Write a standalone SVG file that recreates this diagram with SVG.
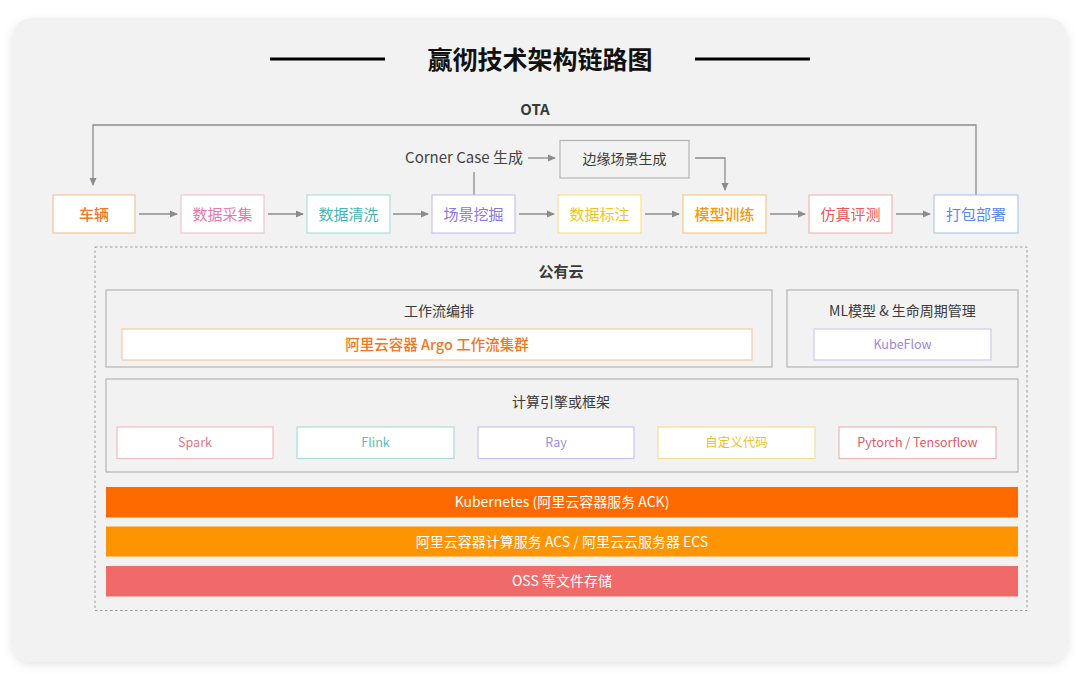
<svg xmlns="http://www.w3.org/2000/svg" width="1080" height="689" viewBox="0 0 1080 689">
<defs>
<filter id="sh" x="-5%" y="-5%" width="110%" height="115%">
<feDropShadow dx="0" dy="3" stdDeviation="5" flood-color="#000" flood-opacity="0.10"/>
</filter>
<marker id="ar" markerWidth="8" markerHeight="8" refX="7" refY="4" orient="auto" markerUnits="userSpaceOnUse">
<path d="M0,0.5 L8,4 L0,7.5 Z" fill="#8c8c8c"/>
</marker>
<style>
text{font-family:"Noto Sans CJK SC","Noto Sans",sans-serif;text-anchor:middle}
.node{fill:#fff;stroke-width:1.2}
.nt{font-size:15px}
.ln{fill:none;stroke:#8c8c8c;stroke-width:1.3}
.grp{fill:#f2f2f2;stroke:#b4b4b4;stroke-width:1.2}
.gt{font-size:14px;fill:#3a3a3a}
.sub{fill:#fff;stroke-width:1.2}
.st{font-size:12.5px}
.bar{stroke:none}
.bt{font-size:14px;fill:#fff}
</style>
</defs>
<rect x="0" y="0" width="1080" height="689" fill="#fff"/>
<rect x="12" y="18" width="1056" height="644" rx="20" fill="#f2f2f2" filter="url(#sh)"/>
<g id="title">
<line x1="270" y1="59" x2="385" y2="59" stroke="#000" stroke-width="3"/>
<line x1="695" y1="59" x2="810" y2="59" stroke="#000" stroke-width="3"/>
<text x="540" y="69" font-size="25" font-weight="bold" fill="#111">赢彻技术架构链路图</text>
</g>
<text x="535" y="115" font-size="15" font-weight="bold" fill="#3a3a3a">OTA</text>
<g id="connectors">
<polyline class="ln" points="976,195 976,125 93,125 93,185" marker-end="url(#ar)"/>
<line class="ln" x1="139" y1="214" x2="177" y2="214" marker-end="url(#ar)"/>
<line class="ln" x1="268" y1="214" x2="303" y2="214" marker-end="url(#ar)"/>
<line class="ln" x1="393" y1="214" x2="428" y2="214" marker-end="url(#ar)"/>
<line class="ln" x1="519" y1="214" x2="554" y2="214" marker-end="url(#ar)"/>
<line class="ln" x1="645" y1="214" x2="679" y2="214" marker-end="url(#ar)"/>
<line class="ln" x1="770" y1="214" x2="805" y2="214" marker-end="url(#ar)"/>
<line class="ln" x1="896" y1="214" x2="930" y2="214" marker-end="url(#ar)"/>
<line class="ln" x1="474" y1="195" x2="474" y2="172"/>
<line class="ln" x1="528" y1="158" x2="555" y2="158" marker-end="url(#ar)"/>
<polyline class="ln" points="695,158 725,158 725,190" marker-end="url(#ar)"/>
</g>
<g id="corner-case"><text x="464" y="163" font-size="15" fill="#444">Corner Case 生成</text></g>
<g id="edge-scene">
<rect x="560" y="140.5" width="129" height="37.5" fill="#f2f2f2" stroke="#b4b4b4" stroke-width="1.2"/>
<text x="624.5" y="164" font-size="14" fill="#3a3a3a">边缘场景生成</text>
</g>
<g id="n1"><rect class="node" x="53" y="195" width="82" height="38" stroke="#f5c49a"/><text class="nt" x="94" y="219.5" fill="#f07820" font-weight="500">车辆</text></g>
<g id="n2"><rect class="node" x="181" y="195" width="83" height="38" stroke="#f2c0d8"/><text class="nt" x="222.5" y="219.5" fill="#e878b0">数据采集</text></g>
<g id="n3"><rect class="node" x="307" y="195" width="83" height="38" stroke="#a8e0dc"/><text class="nt" x="348.5" y="219.5" fill="#3fb5b5">数据清洗</text></g>
<g id="n4"><rect class="node" x="432" y="195" width="83" height="38" stroke="#c8c0f0"/><text class="nt" x="473.5" y="219.5" fill="#8878d8">场景挖掘</text></g>
<g id="n5"><rect class="node" x="558" y="195" width="83" height="38" stroke="#f8e08a"/><text class="nt" x="599.5" y="219.5" fill="#f5c518">数据标注</text></g>
<g id="n6"><rect class="node" x="683" y="195" width="83" height="38" stroke="#f8c880"/><text class="nt" x="724.5" y="219.5" fill="#f59a00" font-weight="500">模型训练</text></g>
<g id="n7"><rect class="node" x="809" y="195" width="83" height="38" stroke="#f2b8b8"/><text class="nt" x="850.5" y="219.5" fill="#e85a5a">仿真评测</text></g>
<g id="n8"><rect class="node" x="934" y="195" width="84" height="38" stroke="#b0c8f2"/><text class="nt" x="976" y="219.5" fill="#5a8ae8">打包部署</text></g>
<g id="cloud">
<rect x="95" y="247" width="932" height="363.5" fill="none" stroke="#9a9a9a" stroke-width="1" stroke-dasharray="2.5,2.5"/>
<text x="561" y="277" font-size="15" font-weight="bold" fill="#3a3a3a">公有云</text>
</g>
<g id="workflow">
<rect class="grp" x="106" y="290" width="666" height="77"/>
<text class="gt" x="439" y="316">工作流编排</text>
</g>
<g id="argo">
<rect class="sub" x="122" y="329" width="630" height="31" stroke="#f5c9a5"/>
<text x="437" y="350" font-size="14.5" fill="#f07820" font-weight="500">阿里云容器 Argo 工作流集群</text>
</g>
<g id="ml">
<rect class="grp" x="787" y="290" width="231" height="77"/>
<text class="gt" x="902.5" y="316">ML模型 &amp; 生命周期管理</text>
</g>
<g id="kubeflow">
<rect class="sub" x="814" y="329" width="177" height="31" stroke="#cfc8f2"/>
<text class="st" x="902.5" y="349" fill="#9a88e0">KubeFlow</text>
</g>
<g id="compute">
<rect class="grp" x="106" y="379" width="912" height="93"/>
<text class="gt" x="561" y="407">计算引擎或框架</text>
</g>
<g id="spark"><rect class="sub" x="117" y="427" width="156" height="31.5" stroke="#f2bcc4"/><text class="st" x="195" y="447" fill="#e07888">Spark</text></g>
<g id="flink"><rect class="sub" x="297" y="427" width="157" height="31.5" stroke="#a8dcd8"/><text class="st" x="375.5" y="447" fill="#5cbcbc">Flink</text></g>
<g id="ray"><rect class="sub" x="478" y="427" width="156" height="31.5" stroke="#c8c0f0"/><text class="st" x="556" y="447" fill="#a090e0">Ray</text></g>
<g id="custom"><rect class="sub" x="658" y="427" width="157" height="31.5" stroke="#f5e090"/><text class="st" x="736.5" y="447" fill="#f0c020">自定义代码</text></g>
<g id="pytorch"><rect class="sub" x="839" y="427" width="157" height="31.5" stroke="#f0b4b4"/><text class="st" x="917.5" y="447" fill="#e05a66">Pytorch / Tensorflow</text></g>
<g id="k8s"><rect class="bar" x="106" y="487" width="912" height="30.5" fill="#ff6a00"/><text class="bt" x="562" y="507">Kubernetes (阿里云容器服务 ACK)</text></g>
<g id="acs"><rect class="bar" x="106" y="526.5" width="912" height="30" fill="#fd9400"/><text class="bt" x="562" y="546.5">阿里云容器计算服务 ACS / 阿里云云服务器 ECS</text></g>
<g id="oss"><rect class="bar" x="106" y="566" width="912" height="30.5" fill="#f06a6a"/><text class="bt" x="562" y="586">OSS 等文件存储</text></g>
</svg>
